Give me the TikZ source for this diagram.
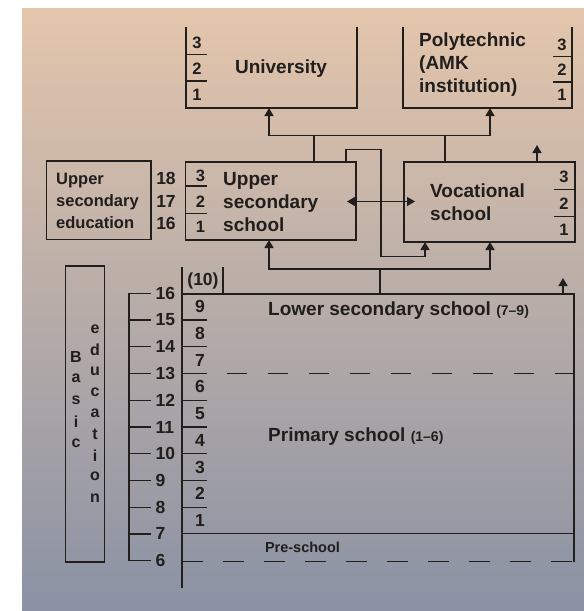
\documentclass[tikz,border=0pt]{standalone}
\usepackage{fontspec}
\setmainfont{Liberation Sans}
\usepackage{tikz}
\usetikzlibrary{arrows.meta}
\usetikzlibrary{positioning}
\definecolor{ink}{HTML}{211E1C}
\definecolor{papertop}{RGB}{228,198,172}
\definecolor{papermid}{RGB}{203,203,208}
\definecolor{paperbot}{RGB}{138,146,164}
\tikzstyle{box} = [draw=ink, line width=1.4pt, inner sep=0pt]
\tikzstyle{wire} = [draw=ink, line width=1.4pt]
\tikzstyle{up} = [-{Triangle[width=9pt,length=8pt]}]
\tikzstyle{gap} = [dash pattern=on 20.6pt off 20.4pt]
\tikzstyle{lbl} = [text=ink, inner sep=0pt, font=\bfseries\fontsize{19}{23}\selectfont]
\tikzstyle{sidelbl} = [text=ink, inner sep=0pt, font=\bfseries\fontsize{16.5}{22}\selectfont]
\tikzstyle{num} = [text=ink, inner sep=0pt, font=\bfseries\fontsize{16.5}{18}\selectfont]
\tikzstyle{age} = [text=ink, inner sep=0pt, font=\bfseries\fontsize{17.5}{20}\selectfont]
\tikzstyle{edu} = [text=ink, inner sep=0pt, font=\bfseries\fontsize{16}{18}\selectfont]
\tikzstyle{tiny} = [text=ink, inner sep=0pt, font=\bfseries\fontsize{14.5}{16}\selectfont]

\begin{document}
\begin{tikzpicture}[x=1pt,y=-1pt]
	\useasboundingbox (0,0) rectangle (584,611);
	\fill[white] (0,0) rectangle (584,611);
	\shade[top color=papertop, middle color=papermid, bottom color=paperbot] (22,8) rectangle (584,611);

	% higher education
	\draw[wire] (186,27) |- (357,108) -- (357,27);
	\draw[wire] (186,54.5) -- +(21,0) (186,81) -- +(21,0);
	\node[num] (uni3) at (197,42.5) {3};
	\node[num] (uni2) at (197,68.5) {2};
	\node[num] (uni1) at (197,95) {1};
	\node[lbl] (unitext) at (281,69) {University};
	\coordinate (uni) at (269,108);

	\draw[wire] (403,27) |- (572,108) -- (572,27);
	\draw[wire] (553,56.5) -- (572,56.5) (553,82) -- (572,82);
	\node[num] (amk3) at (562,44.5) {3};
	\node[num] (amk2) at (562,70) {2};
	\node[num] (amk1) at (562,95) {1};
	\node[lbl, anchor=west, align=left] (amktext) at (419,65) {Polytechnic\\(AMK\\institution)};
	\coordinate (amk) at (490,108);

	% upper secondary level
	\node[box, minimum width=104.5pt, minimum height=78.5pt] (usedu) at (98.75,200.25) {};
	\node[sidelbl, anchor=west, align=left] (usedutext) at (56,201) {Upper\\secondary\\education};
	\node[age] (a18) at (166,178) {18};
	\node[age] (a17) at (166,201) {17};
	\node[age] (a16) at (166,223.5) {16};

	\node[box, minimum width=170.5pt, minimum height=78pt] (usec) at (270.75,201) {};
	\draw[wire] (185.5,186) -- +(21.5,0) (185.5,213.5) -- +(21.5,0);
	\node[num] (us3) at (200.5,176) {3};
	\node[num] (us2) at (200.5,201.5) {2};
	\node[num] (us1) at (200.5,227) {1};
	\node[lbl, anchor=west, align=left] (ustext) at (223,202) {Upper\\secondary\\school};

	\node[box, minimum width=171pt, minimum height=80pt] (voc) at (489.5,202) {};
	\draw[wire] (554,189.5) -- (575,189.5) (554,216.5) -- (575,216.5);
	\node[num] (voc3) at (564,177) {3};
	\node[num] (voc2) at (564,204) {2};
	\node[num] (voc1) at (564,230) {1};
	\node[lbl, anchor=west, align=left] (voctext) at (430,202.5) {Vocational\\school};

	% connectors
	\coordinate (ja) at (314,135.5);
	\coordinate (jb) at (445,135.5);
	\draw[wire,up] (ja) -| (uni);
	\draw[wire,up] (ja) -| (amk);
	\draw[wire] (ja) -- (ja |- usec.north);
	\draw[wire] (jb) -- (jb |- voc.north);

	\coordinate (la) at (346,149.5);
	\coordinate (lb) at (381,256.5);
	\coordinate (vin) at (425,242);
	\draw[wire,up] (la |- usec.north) -- (la) -| (lb) -| (vin);

	\coordinate (dl) at (347,201.5);
	\coordinate (dr) at (415,201.5);
	\draw[wire,{Triangle[width=9pt,length=8pt]}-{Triangle[width=9pt,length=8pt]}] (dl) -- (dr);

	\coordinate (vo) at (537,145);
	\draw[wire,up] (vo |- voc.north) -- (vo);

	\coordinate (jc) at (380,269);
	\coordinate (us) at (269,240);
	\coordinate (vs) at (490,242);
	\draw[wire,up] (jc) -| (us);
	\draw[wire,up] (jc) -| (vs);
	\draw[wire] (jc) -- (380,294);

	% basic education
	\draw[wire] (182,267) -- (182,588);
	\draw[wire] (223,267) -- (223,294);
	\node[age] (ten) at (203,281) {(10)};
	\draw[wire] (182,294) -- (574,294) -- (574,562);
	\draw[wire,up] (563,294) -- (563,278);

	\draw[wire] (151,293.3) -- (129,293.3) -- (129,560.7) -- (151,560.7);
	\foreach \a in {7,...,15}
		\draw[wire] (129,{293.3+(16-\a)*26.74}) -- +(22,0);
	\foreach \a in {6,...,16}
		\node[age, anchor=west] (age\a) at (155.5,{293.3+(16-\a)*26.74}) {\a};

	\foreach \a in {8,...,15}
		\draw[wire] (182,{293.3+(16-\a)*26.74}) -- +(25,0);
	\foreach \g in {1,...,9}
		\node[age] (gr\g) at (200,{293.3+(9.5-\g)*26.74}) {\g};

	\draw[wire,gap] (226.5,373.5) -- (574,373.5);
	\draw[wire] (182,533.5) -- (574,533.5);
	\draw[wire,gap] (182,561.5) -- (574,561.5);

	\node[lbl, anchor=west] (lower) at (268,311) {Lower secondary school {\fontsize{14}{16}\selectfont (7--9)}};
	\node[lbl, anchor=west] (primary) at (268,437) {Primary school {\fontsize{14}{16}\selectfont (1--6)}};
	\node[tiny] (pre) at (302.5,547) {Pre-school};

	\node[box, minimum width=39pt, minimum height=296pt] (basic) at (85,414) {};
	\foreach \c [count=\i] in {B,a,s,i,c}
		\node[edu] (b\i) at (76,{357+(\i-1)*21.5}) {\c};
	\foreach \c [count=\i] in {e,d,u,c,a,t,i,o,n}
		\node[edu] (e\i) at (95,{329+(\i-1)*21.1}) {\c};
\end{tikzpicture}
\end{document}
